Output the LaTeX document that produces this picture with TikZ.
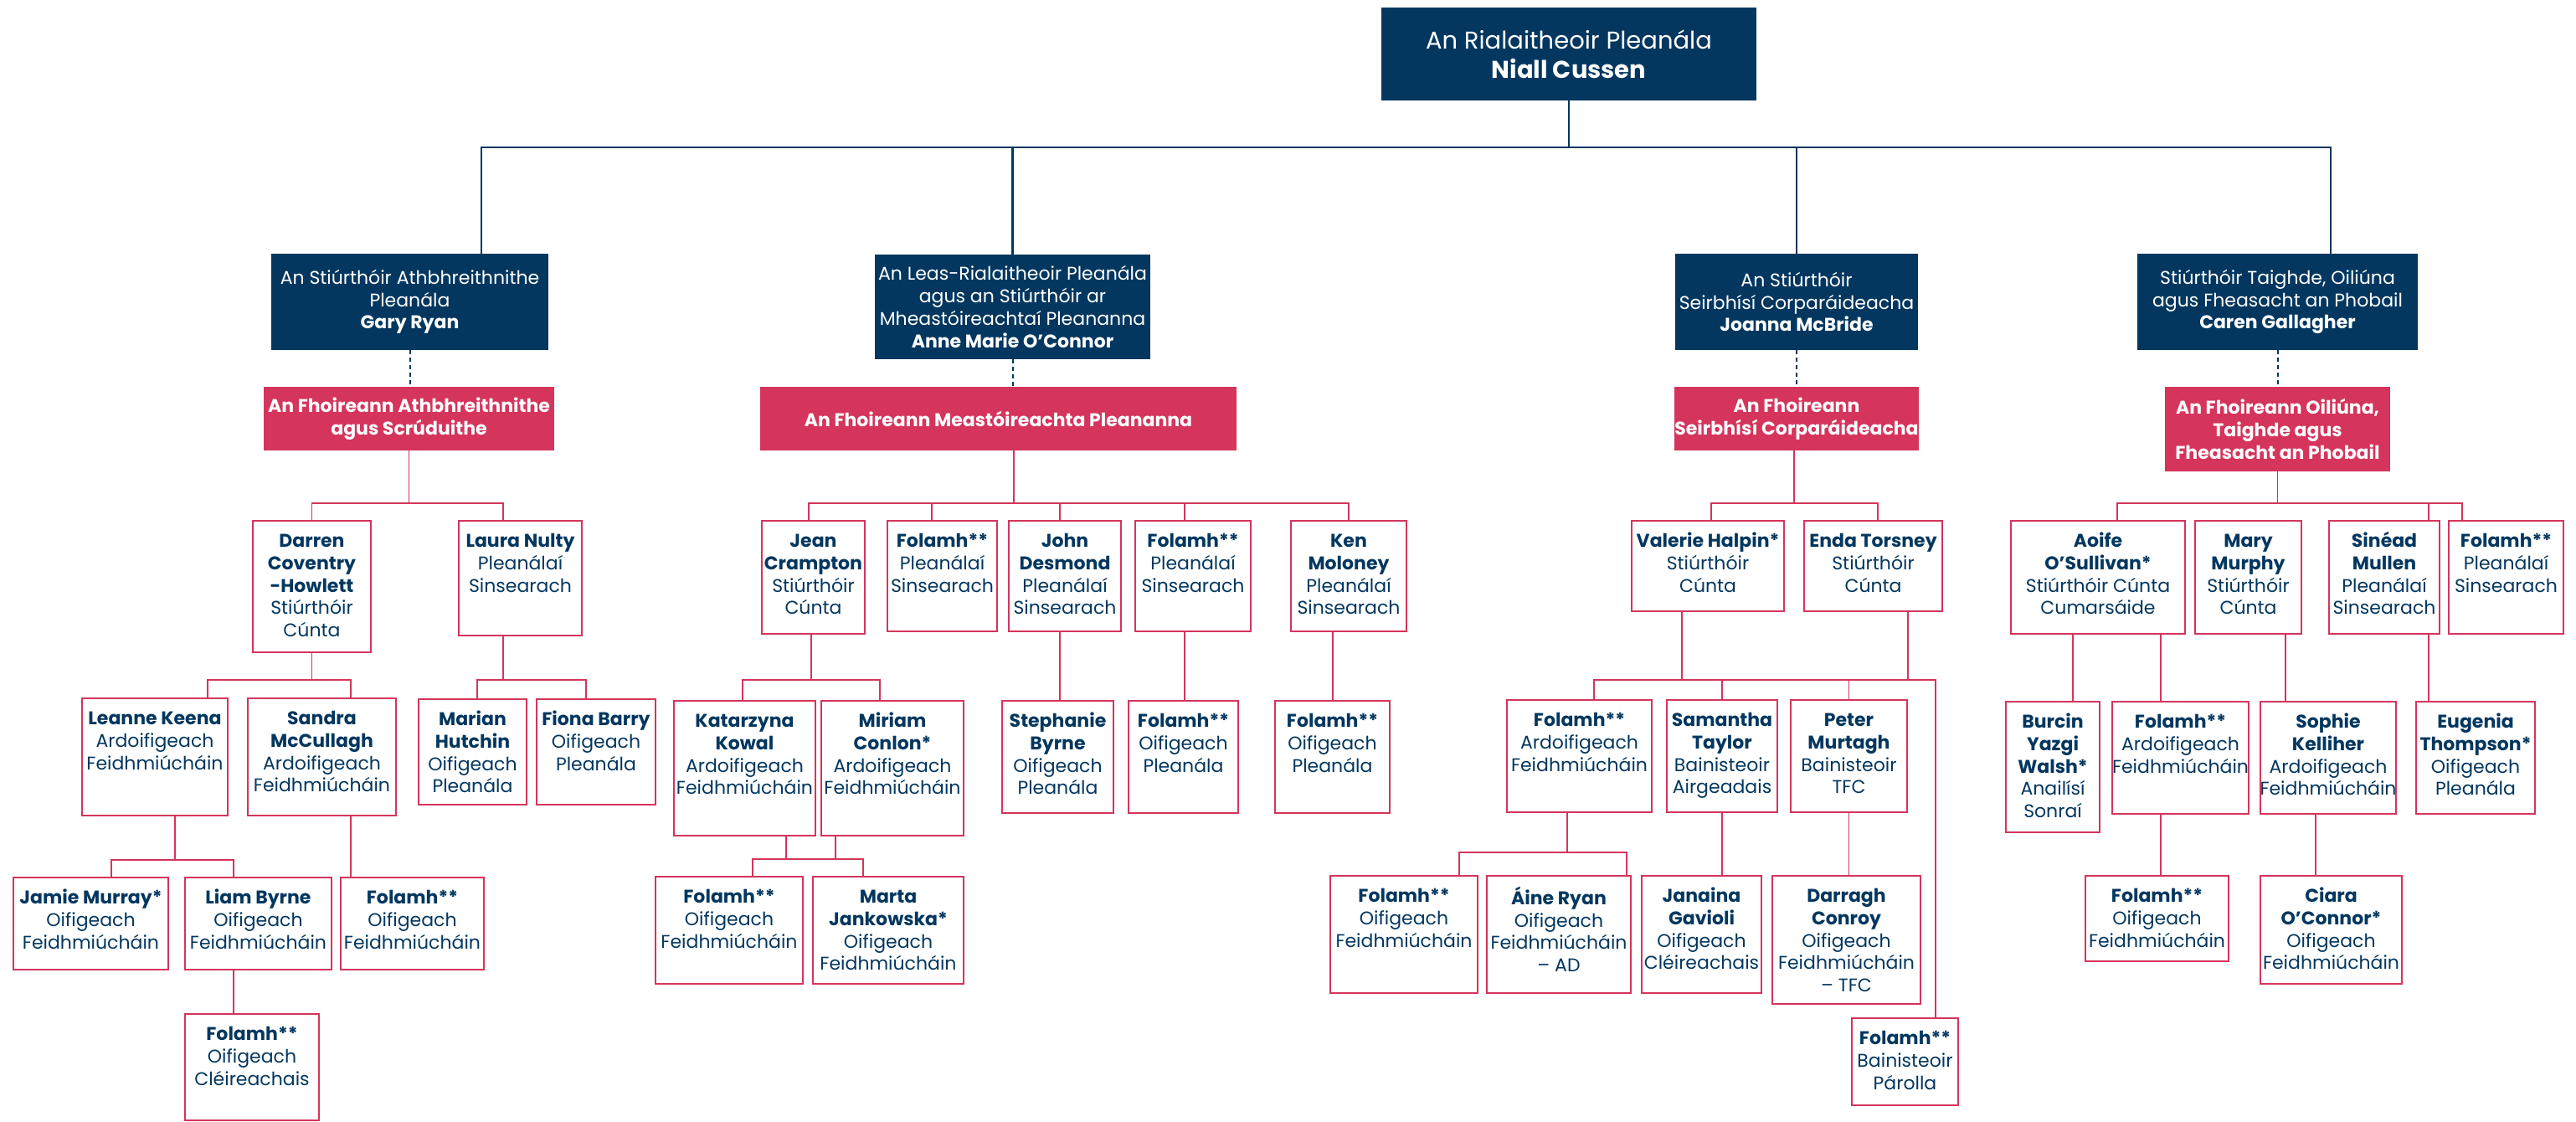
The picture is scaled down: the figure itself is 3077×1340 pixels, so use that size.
\documentclass[tikz,border=0pt]{standalone}
\usepackage{fontspec}
\setmainfont{Poppins}
\definecolor{navyc}{HTML}{03375F}
\definecolor{pinkc}{HTML}{D5345C}
\newcommand{\who}[1]{\textbf{#1}}
\newcommand{\stafftext}[3]{\parbox[t][#2pt][t]{#1pt}{\vspace*{13pt}\centering\makebox[0pt]{\begin{tabular}[t]{@{}c@{}}#3\end{tabular}}\par}}

\begin{document}
\begin{tikzpicture}[x=1pt, y=-1pt,
  every node/.style={inner sep=0pt, outer sep=0pt, font=\fontsize{22}{26.7}\selectfont},
  navybox/.style={fill=navyc, text=white, align=center},
  teambox/.style={fill=pinkc, text=white, align=center, font=\fontsize{22}{26.7}\selectfont\bfseries},
  staffbox/.style={draw=pinkc, line width=1.5pt, fill=white, text=navyc},
  navyline/.style={draw=navyc, line width=2.4pt},
  dashline/.style={draw=navyc, line width=2pt, dash pattern=on 5pt off 4pt},
  pinkline/.style={draw=pinkc, line width=1.5pt}]
\fill[white] (0,0) rectangle (3077,1340);

\coordinate (busTop) at (0,176);
\coordinate (busL1) at (0,601);
\coordinate (busL2) at (0,812);
\coordinate (busL3) at (0,1027);
\coordinate (busKM) at (0,1026);
\coordinate (busAO) at (0,1018);

\node[navybox, minimum width=448, minimum height=111, font=\fontsize{29}{35}\selectfont] (reg) at (1874,64.5) {An Rialaitheoir Pleanála\\\who{Niall Cussen}};

\node[navybox, minimum width=331, minimum height=115] (gary) at (489.5,360.5) {An Stiúrthóir Athbhreithnithe\\Pleanála\\\who{Gary Ryan}};
\node[navybox, minimum width=329, minimum height=125] (leas) at (1209.5,366.5) {An Leas-Rialaitheoir Pleanála\\agus an Stiúrthóir ar\\Mheastóireachtaí Pleananna\\\who{Anne Marie O’Connor}};
\node[navybox, minimum width=290, minimum height=115] (joanna) at (2146,360.5) {An Stiúrthóir\\Seirbhísí Corparáideacha\\\who{Joanna McBride}};
\node[navybox, minimum width=335, minimum height=115] (caren) at (2720.5,360.5) {Stiúrthóir Taighde, Oiliúna\\agus Fheasacht an Phobail\\\who{Caren Gallagher}};

\node[teambox, minimum width=347, minimum height=76] (teamAS) at (488.5,500) {An Fhoireann Athbhreithnithe\\agus Scrúduithe};
\node[teambox, minimum width=569, minimum height=76] (teamMP) at (1192.5,500) {An Fhoireann Meastóireachta Pleananna};
\node[teambox, minimum width=292, minimum height=76] (teamSC) at (2146,500) {An Fhoireann\\Seirbhísí Corparáideacha};
\node[teambox, minimum width=269, minimum height=101] (teamOT) at (2720.5,512.5) {An Fhoireann Oiliúna,\\Taighde agus\\Fheasacht an Phobail};

\node[staffbox] (darren) at (372.5,700.5) {\stafftext{141}{157}{\who{Darren}\\\who{Coventry}\\\who{-Howlett}\\Stiúrthóir\\Cúnta}};
\node[staffbox] (laura) at (621.5,690.5) {\stafftext{147}{137}{\who{Laura Nulty}\\Pleanálaí\\Sinsearach}};
\node[staffbox] (jean) at (971.5,689.5) {\stafftext{123}{135}{\who{Jean}\\\who{Crampton}\\Stiúrthóir\\Cúnta}};
\node[staffbox] (vacPSa) at (1125.5,688) {\stafftext{131}{132}{\who{Folamh**}\\Pleanálaí\\Sinsearach}};
\node[staffbox] (john) at (1272,688) {\stafftext{134}{132}{\who{John}\\\who{Desmond}\\Pleanálaí\\Sinsearach}};
\node[staffbox] (vacPSb) at (1425,688) {\stafftext{138}{132}{\who{Folamh**}\\Pleanálaí\\Sinsearach}};
\node[staffbox] (ken) at (1611,688) {\stafftext{138}{132}{\who{Ken}\\\who{Moloney}\\Pleanálaí\\Sinsearach}};
\node[staffbox] (valerie) at (2040,676) {\stafftext{182}{108}{\who{Valerie Halpin*}\\Stiúrthóir\\Cúnta}};
\node[staffbox] (enda) at (2237.5,676) {\stafftext{165}{108}{\who{Enda Torsney}\\Stiúrthóir\\Cúnta}};
\node[staffbox] (aoife) at (2506,689.5) {\stafftext{208}{135}{\who{Aoife}\\\who{O’Sullivan*}\\Stiúrthóir Cúnta\\Cumarsáide}};
\node[staffbox] (mary) at (2685.5,689.5) {\stafftext{127}{135}{\who{Mary}\\\who{Murphy}\\Stiúrthóir\\Cúnta}};
\node[staffbox] (sinead) at (2848,689.5) {\stafftext{132}{135}{\who{Sinéad}\\\who{Mullen}\\Pleanálaí\\Sinsearach}};
\node[staffbox] (vacPSc) at (2993.5,689.5) {\stafftext{137}{135}{\who{Folamh**}\\Pleanálaí\\Sinsearach}};

\node[staffbox] (leanne) at (185,904) {\stafftext{174}{140}{\who{Leanne Keena}\\Ardoifigeach\\Feidhmiúcháin}};
\node[staffbox] (sandra) at (384.5,904) {\stafftext{177}{140}{\who{Sandra}\\\who{McCullagh}\\Ardoifigeach\\Feidhmiúcháin}};
\node[staffbox] (marian) at (564.5,898) {\stafftext{129}{126}{\who{Marian}\\\who{Hutchin}\\Oifigeach\\Pleanála}};
\node[staffbox] (fiona) at (712,898) {\stafftext{142}{126}{\who{Fiona Barry}\\Oifigeach\\Pleanála}};
\node[staffbox] (kat) at (889.5,917.5) {\stafftext{169}{161}{\who{Katarzyna}\\\who{Kowal}\\Ardoifigeach\\Feidhmiúcháin}};
\node[staffbox] (miriam) at (1066,917.5) {\stafftext{170}{161}{\who{Miriam}\\\who{Conlon*}\\Ardoifigeach\\Feidhmiúcháin}};
\node[staffbox] (stephanie) at (1263.5,904) {\stafftext{133}{134}{\who{Stephanie}\\\who{Byrne}\\Oifigeach\\Pleanála}};
\node[staffbox] (vacOPa) at (1413.5,904) {\stafftext{131}{134}{\who{Folamh**}\\Oifigeach\\Pleanála}};
\node[staffbox] (vacOPb) at (1591.5,904) {\stafftext{137}{134}{\who{Folamh**}\\Oifigeach\\Pleanála}};
\node[staffbox] (vacAOa) at (1886.5,903) {\stafftext{173}{134}{\who{Folamh**}\\Ardoifigeach\\Feidhmiúcháin}};
\node[staffbox] (samantha) at (2057,903) {\stafftext{132}{134}{\who{Samantha}\\\who{Taylor}\\Bainisteoir\\Airgeadais}};
\node[staffbox] (peter) at (2208.5,903) {\stafftext{139}{134}{\who{Peter}\\\who{Murtagh}\\Bainisteoir\\TFC}};
\node[staffbox] (burcin) at (2452,916) {\stafftext{112}{156}{\who{Burcin}\\\who{Yazgi}\\\who{Walsh*}\\Anailísí\\Sonraí}};
\node[staffbox] (vacAOb) at (2604.5,905) {\stafftext{163}{134}{\who{Folamh**}\\Ardoifigeach\\Feidhmiúcháin}};
\node[staffbox] (sophie) at (2781,905) {\stafftext{162}{134}{\who{Sophie}\\\who{Kelliher}\\Ardoifigeach\\Feidhmiúcháin}};
\node[staffbox] (eugenia) at (2957,905) {\stafftext{142}{134}{\who{Eugenia}\\\who{Thompson*}\\Oifigeach\\Pleanála}};

\node[staffbox] (jamie) at (108.5,1103) {\stafftext{185}{110}{\who{Jamie Murray*}\\Oifigeach\\Feidhmiúcháin}};
\node[staffbox] (liam) at (308.5,1103) {\stafftext{175}{110}{\who{Liam Byrne}\\Oifigeach\\Feidhmiúcháin}};
\node[staffbox] (vacOFa) at (492.5,1103) {\stafftext{171}{110}{\who{Folamh**}\\Oifigeach\\Feidhmiúcháin}};
\node[staffbox] (vacOFb) at (871,1111) {\stafftext{176}{128}{\who{Folamh**}\\Oifigeach\\Feidhmiúcháin}};
\node[staffbox] (marta) at (1061,1111) {\stafftext{180}{128}{\who{Marta}\\\who{Jankowska*}\\Oifigeach\\Feidhmiúcháin}};
\node[staffbox] (vacOFc) at (1677,1116) {\stafftext{176}{140}{\who{Folamh**}\\Oifigeach\\Feidhmiúcháin}};
\node[staffbox] (aine) at (1862,1116) {\stafftext{172}{140}{\who{Áine Ryan}\\Oifigeach\\Feidhmiúcháin\\– AD}};
\node[staffbox] (janaina) at (2032.5,1116) {\stafftext{143}{140}{\who{Janaina}\\\who{Gavioli}\\Oifigeach\\Cléireachais}};
\node[staffbox] (darragh) at (2205.5,1122.5) {\stafftext{177}{153}{\who{Darragh}\\\who{Conroy}\\Oifigeach\\Feidhmiúcháin\\– TFC}};
\node[staffbox] (vacOFd) at (2576.5,1097) {\stafftext{171}{102}{\who{Folamh**}\\Oifigeach\\Feidhmiúcháin}};
\node[staffbox] (ciara) at (2784.5,1110.5) {\stafftext{169}{129}{\who{Ciara}\\\who{O’Connor*}\\Oifigeach\\Feidhmiúcháin}};

\node[staffbox] (vacCO) at (301,1274.5) {\stafftext{160}{127}{\who{Folamh**}\\Oifigeach\\Cléireachais}};
\node[staffbox] (vacPM) at (2275.5,1268) {\stafftext{127}{104}{\who{Folamh**}\\Bainisteoir\\Párolla}};

\draw[navyline] (reg.south) -- (reg.south |- busTop);
\draw[navyline] ([xshift=85.5]gary.north) |- ([xshift=63.5]caren.north |- busTop) -- ([xshift=63.5]caren.north);
\draw[navyline] (leas.north) -- (leas.north |- busTop);
\draw[navyline] (joanna.north) -- (joanna.north |- busTop);

\draw[dashline] (gary.south) -- (gary.south |- teamAS.north);
\draw[dashline] (leas.south) -- (leas.south |- teamMP.north);
\draw[dashline] (joanna.south) -- (joanna.south |- teamSC.north);
\draw[dashline] (caren.south) -- (caren.south |- teamOT.north);

\draw[pinkline] (teamAS.south) -- (teamAS.south |- busL1);
\draw[pinkline] (darren.north) |- ([xshift=-20.5]laura.north |- busL1) -- ([xshift=-20.5]laura.north);
\draw[pinkline] (darren.south) -- (darren.south |- busL2);
\draw[pinkline] ([xshift=63]leanne.north) |- ([xshift=34.5]sandra.north |- busL2) -- ([xshift=34.5]sandra.north);
\draw[pinkline] ([xshift=-20.5]laura.south) -- ([xshift=-20.5]laura.south |- busL2);
\draw[pinkline] ([xshift=5.5]marian.north) |- ([xshift=-12]fiona.north |- busL2) -- ([xshift=-12]fiona.north);
\draw[pinkline] ([xshift=24]leanne.south) -- ([xshift=24]leanne.south |- busL3);
\draw[pinkline] ([xshift=24.5]jamie.north) |- ([xshift=-29.5]liam.north |- busL3) -- ([xshift=-29.5]liam.north);
\draw[pinkline] ([xshift=34.5]sandra.south) -- ([xshift=34.5]sandra.south |- vacOFa.north);
\draw[pinkline] ([xshift=-29.5]liam.south) -- ([xshift=-29.5]liam.south |- vacCO.north);

\draw[pinkline] ([xshift=18.5]teamMP.south) -- ([xshift=18.5]teamMP.south |- busL1);
\draw[pinkline] ([xshift=-5.5]jean.north) |- (ken.north |- busL1) -- (ken.north);
\draw[pinkline] ([xshift=-12.5]vacPSa.north) -- ([xshift=-12.5]vacPSa.north |- busL1);
\draw[pinkline] ([xshift=-6]john.north) -- ([xshift=-6]john.north |- busL1);
\draw[pinkline] ([xshift=-10]vacPSb.north) -- ([xshift=-10]vacPSb.north |- busL1);
\draw[pinkline] ([xshift=-2.5]jean.south) -- ([xshift=-2.5]jean.south |- busL2);
\draw[pinkline] ([xshift=-2.5]kat.north) |- ([xshift=-15]miriam.north |- busL2) -- ([xshift=-15]miriam.north);
\draw[pinkline] ([xshift=49.5]kat.south) -- ([xshift=49.5]kat.south |- busKM);
\draw[pinkline] ([xshift=-68]miriam.south) -- ([xshift=-68]miriam.south |- busKM);
\draw[pinkline] ([xshift=28]vacOFb.north) |- ([xshift=-30]marta.north |- busKM) -- ([xshift=-30]marta.north);
\draw[pinkline] ([xshift=-6]john.south) -- ([xshift=-6]john.south |- stephanie.north);
\draw[pinkline] ([xshift=-10]vacPSb.south) -- ([xshift=-10]vacPSb.south |- vacOPa.north);
\draw[pinkline] ([xshift=-19]ken.south) -- ([xshift=-19]ken.south |- vacOPb.north);

\draw[pinkline] ([xshift=-3]teamSC.south) -- ([xshift=-3]teamSC.south |- busL1);
\draw[pinkline] ([xshift=4]valerie.north) |- ([xshift=5.5]enda.north |- busL1) -- ([xshift=5.5]enda.north);
\draw[pinkline] ([xshift=-31]valerie.south) -- ([xshift=-31]valerie.south |- busL2);
\draw[pinkline] ([xshift=41.5]enda.south) -- ([xshift=41.5]enda.south |- busL2);
\draw[pinkline] ([xshift=17.5]vacAOa.north) |- ([xshift=36.5]vacPM.north |- busL2) -- ([xshift=36.5]vacPM.north);
\draw[pinkline] (samantha.north) -- (samantha.north |- busL2);
\draw[pinkline] (peter.north) -- (peter.north |- busL2);
\draw[pinkline] ([xshift=-14.5]vacAOa.south) -- ([xshift=-14.5]vacAOa.south |- busAO);
\draw[pinkline] ([xshift=66]vacOFc.north) |- ([xshift=81]aine.north |- busAO) -- ([xshift=81]aine.north);
\draw[pinkline] (samantha.south) -- (samantha.south |- janaina.north);
\draw[pinkline] (peter.south) -- (peter.south |- darragh.north);

\draw[pinkline] (teamOT.south) -- (teamOT.south |- busL1);
\draw[pinkline] ([xshift=23]aoife.north) |- ([xshift=-52.5]vacPSc.north |- busL1) -- ([xshift=-52.5]vacPSc.north);
\draw[pinkline] ([xshift=53]sinead.north) -- ([xshift=53]sinead.north |- busL1);
\draw[pinkline] ([xshift=-30]aoife.south) -- ([xshift=-30]aoife.south |- burcin.north);
\draw[pinkline] ([xshift=75]aoife.south) -- ([xshift=75]aoife.south |- vacAOb.north);
\draw[pinkline] ([xshift=44.5]mary.south) -- ([xshift=44.5]mary.south |- sophie.north);
\draw[pinkline] ([xshift=53]sinead.south) -- ([xshift=53]sinead.south |- eugenia.north);
\draw[pinkline] ([xshift=-23.5]vacAOb.south) -- ([xshift=-23.5]vacAOb.south |- vacOFd.north);
\draw[pinkline] ([xshift=-15]sophie.south) -- ([xshift=-15]sophie.south |- ciara.north);
\end{tikzpicture}
\end{document}
